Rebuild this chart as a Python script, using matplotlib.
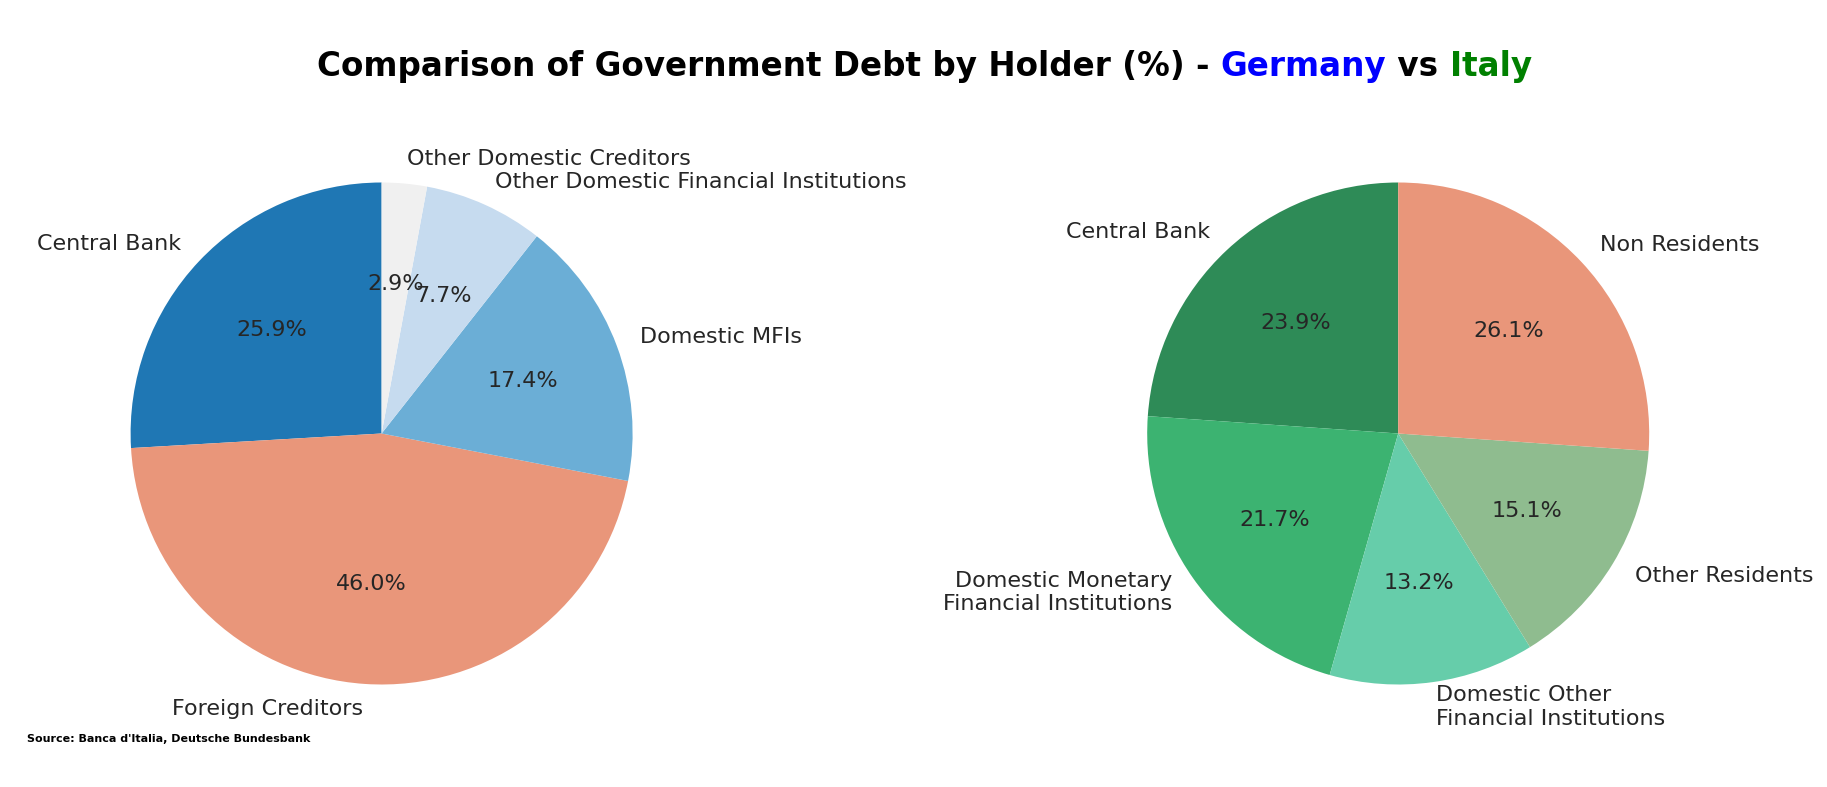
import matplotlib.pyplot as plt

# Germany
de_labels = ["Central Bank", "Foreign Creditors", "Domestic MFIs",
             "Other Domestic Financial Institutions", "Other Domestic Creditors"]
de_values = [25.9, 46.0, 17.4, 7.7, 2.9]
de_colors = ["#1f77b4", "#e9967a", "#6baed6", "#c6dbef", "#f0f0f0"]

# Italy
it_labels = ["Central Bank", "Domestic Monetary\nFinancial Institutions",
             "Domestic Other\nFinancial Institutions", "Other Residents", "Non Residents"]
it_values = [23.9, 21.7, 13.2, 15.1, 26.1]
it_colors = ["#2e8b57", "#3cb371", "#66cdaa", "#8fbc8f", "#e9967a"]

W, H = 1827, 787
fig = plt.figure(figsize=(W / 100, H / 100), dpi=100)
fig.patch.set_facecolor("white")

LIM = 1.2
R_PX = 251
side = 2 * LIM * R_PX


def make_ax(cx, cy):
    return fig.add_axes([(cx - side / 2) / W, (H - cy - side / 2) / H, side / W, side / H])


text_kw = dict(fontsize=16, color="#262626")
for cx, vals, labs, cols in [(381.6, de_values, de_labels, de_colors),
                              (1398.2, it_values, it_labels, it_colors)]:
    ax = make_ax(cx, 433.5)
    ax.pie(vals, labels=labs, colors=cols, autopct="%1.1f%%", startangle=90,
           counterclock=True, textprops=text_kw, pctdistance=0.6, labeldistance=1.1)
    ax.set_xlim(-LIM, LIM)
    ax.set_ylim(-LIM, LIM)
    ax.set_aspect("equal")
    ax.axis("off")

# multi-coloured title
parts = [("Comparison of Government Debt by Holder (%) - ", "black"),
         ("Germany", "blue"), (" vs ", "black"), ("Italy", "green")]
renderer = fig.canvas.get_renderer()
texts = []
for s, c in parts:
    t = fig.text(0, 0.916, s, color=c, fontsize=23.5, fontweight="bold", va="center", ha="left")
    texts.append(t)
widths = [t.get_window_extent(renderer).width for t in texts]
x = (W / 2 + 11 - sum(widths) / 2)
for t, w in zip(texts, widths):
    t.set_x(x / W)
    x += w

fig.text(0.015, 0.061, "Source: Banca d'Italia, Deutsche Bundesbank",
         fontsize=8, fontweight="bold", ha="left", va="center")

fig.savefig("out.png", dpi=100)
